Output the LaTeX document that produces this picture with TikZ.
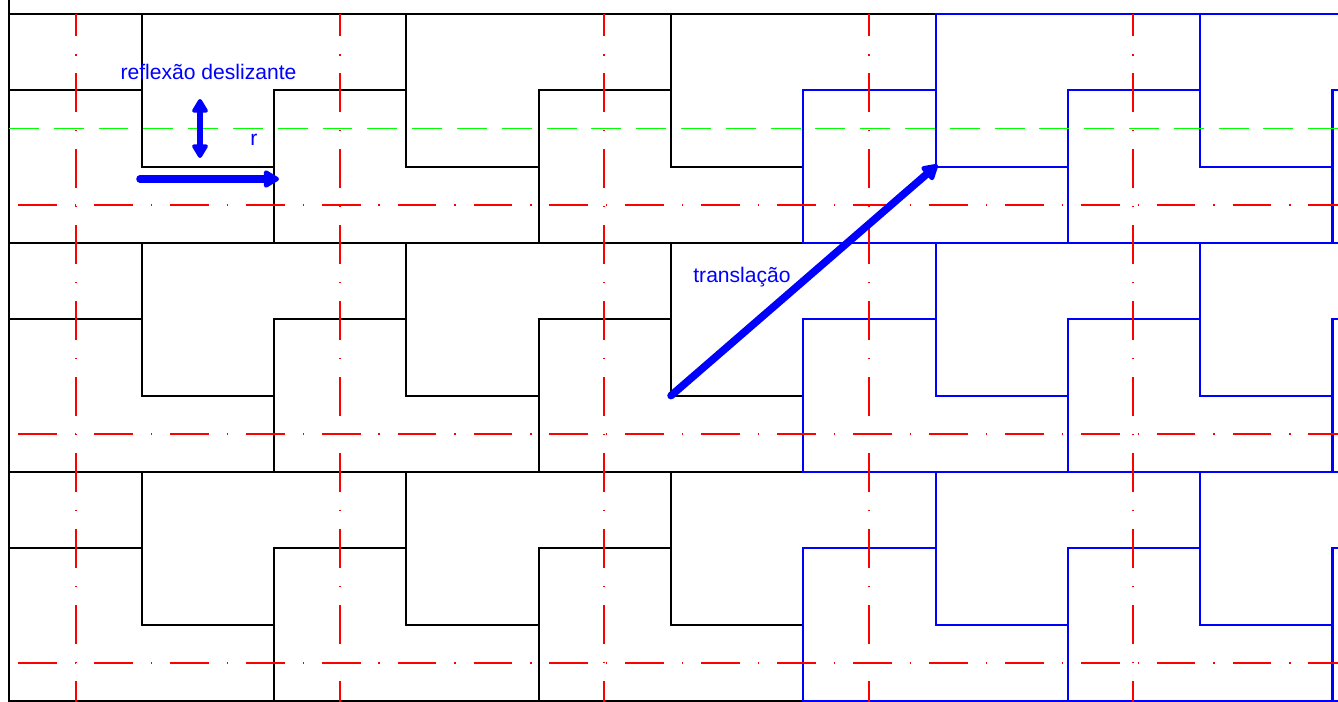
\documentclass[tikz,border=0pt]{standalone}
\usepackage{fontspec}
\setsansfont{Liberation Sans}
\usepackage{tikz}
\usetikzlibrary{arrows.meta}

\def\tw{132.3}
\def\th{76.33}

\begin{document}
\begin{tikzpicture}[x=0.02cm,y=-0.02cm,
            tileblack/.style={black,line width=1.1pt},
            tileblue/.style={blue,line width=1.25pt},
            axisred/.style={red,line width=0.9pt,
                dash pattern=on 22.1pt off 10.2pt on 0.7pt off 10.2pt},
            axisgreen/.style={green,line width=1.1pt,
                dash pattern=on 17pt off 8.5pt},
            movearrow/.style={blue,line width=4.3pt,line cap=round,
                -{Triangle[length=10pt,width=11pt,round]}},
            movetext/.style={blue,font=\sffamily\fontsize{12}{14}\selectfont,
                inner sep=0pt,anchor=base}]
            \useasboundingbox (0,0) rectangle (1338,702);
            \begin{scope}
                \clip (9,0) rectangle (1338,702);
                \foreach \r in {0,1,2}{
                    \foreach \j in {-1,...,2}
                        \draw[tileblack] ({141.8+2*\tw*\j},{14+3*\th*\r})
                            -- ++(2*\tw,0) -- ++(0,\th) -- ++(-\tw,0)
                            -- ++(0,\th) -- ++(-\tw,0) -- cycle;
                    \foreach \j in {-1,...,1}
                        \draw[tileblack] ({141.8+\tw+2*\tw*\j},{14+3*\th*\r+\th})
                            -- ++(\tw,0) -- ++(0,\th) -- ++(\tw,0)
                            -- ++(0,\th) -- ++(-2*\tw,0) -- cycle;
                }
                \foreach \r in {0,1,2}{
                    \foreach \j in {3,4}
                        \draw[tileblue] ({141.8+2*\tw*\j},{14+3*\th*\r})
                            -- ++(2*\tw,0) -- ++(0,\th) -- ++(-\tw,0)
                            -- ++(0,\th) -- ++(-\tw,0) -- cycle;
                    \foreach \j in {2,3,4}
                        \draw[tileblue] ({141.8+\tw+2*\tw*\j},{14+3*\th*\r+\th})
                            -- ++(\tw,0) -- ++(0,\th) -- ++(\tw,0)
                            -- ++(0,\th) -- ++(-2*\tw,0) -- cycle;
                }
            \end{scope}
            \draw[tileblack] (9,0) -- (9,702);
            \foreach \x in {76,340,604,869,1133}
                \draw[axisred,dash phase=9.35pt] (\x,14) -- (\x,702);
            \foreach \y in {205,434,663}
                \draw[axisred,dash phase=38pt] (9,\y) -- (1338,\y);
            \draw[axisgreen] (9,{14+1.5*\th}) -- (1338,{14+1.5*\th});
            \coordinate (glideS) at (140,179);
            \coordinate (glideE) at (279,179);
            \coordinate (reflT) at (200,99);
            \coordinate (reflB) at (200,158);
            \coordinate (transS) at ({141.8+4*\tw},{14+5*\th});
            \coordinate (transE) at ({143.8+6*\tw},{12+2*\th});
            \draw[movearrow] (glideS) -- (glideE);
            \draw[movearrow,line width=3.8pt,
                {Triangle[length=9pt,width=10pt,round]}-{Triangle[length=9pt,width=10pt,round]}]
                (reflT) -- (reflB);
            \draw[movearrow] (transS) -- (transE);
            \node[movetext] (glidetext) at (208.5,80) {reflexão deslizante};
            \node[movetext] (rtext) at (254,146) {r};
            \node[movetext] (transtext) at (742,283) {translação};
        \end{tikzpicture}
\end{document}
